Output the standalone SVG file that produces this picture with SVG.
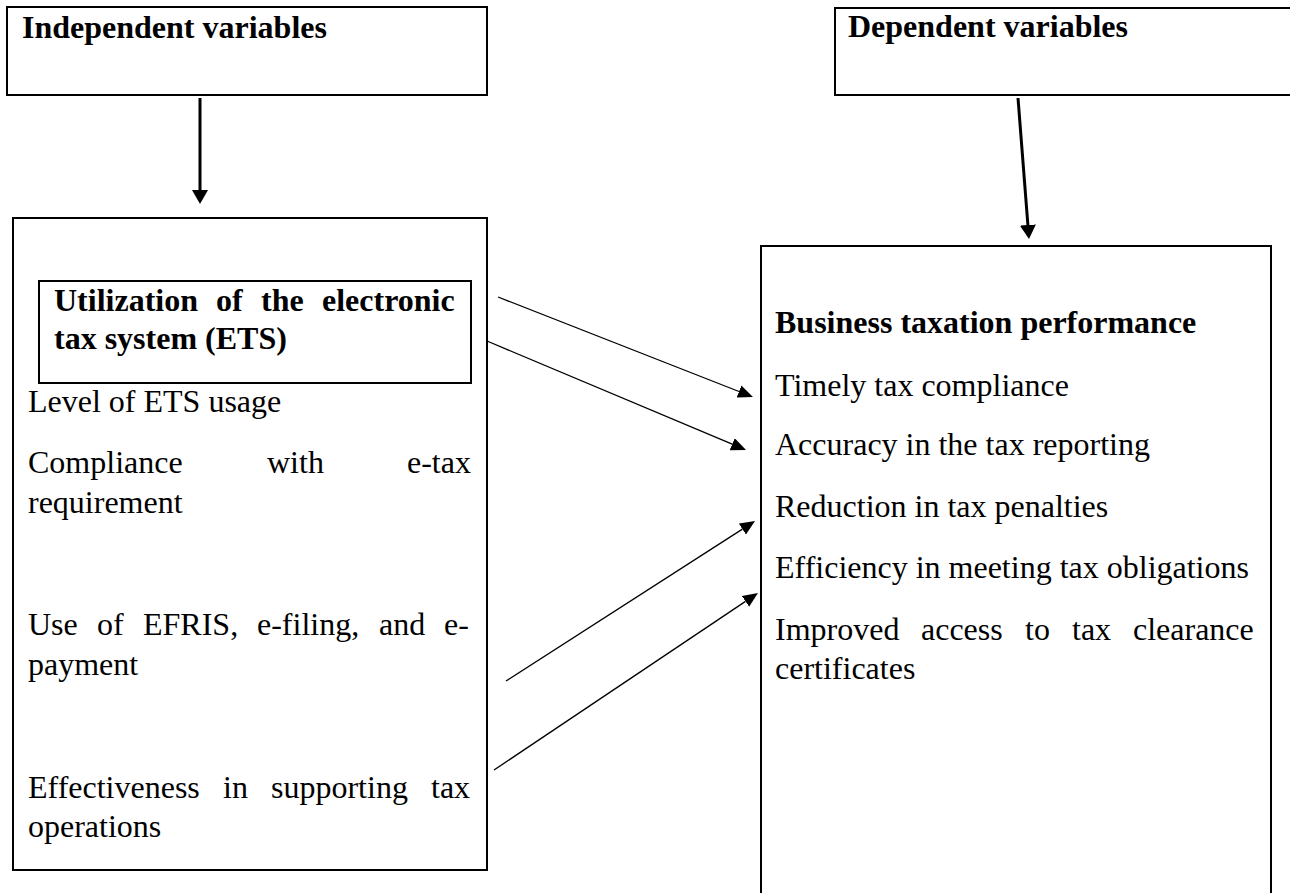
<svg xmlns="http://www.w3.org/2000/svg" width="1290" height="893" viewBox="0 0 1290 893">
<style>
.box{fill:none;stroke:#000;stroke-width:2}
.t{font-family:"Liberation Serif","Times New Roman",serif;font-size:32px;fill:#000}
.b{font-weight:bold}
.thick{stroke:#000;stroke-width:3;fill:none}
.thin{stroke:#000;stroke-width:1.3;fill:none}
</style>
<defs>
<marker id="hb" markerUnits="userSpaceOnUse" viewBox="0 -8 14 16" markerWidth="14" markerHeight="16" refX="0" refY="0" orient="auto">
<path d="M0,-8 L14,0 L0,8 z" fill="#000"/>
</marker>
<marker id="hs" markerUnits="userSpaceOnUse" viewBox="0 -6.5 15 13" markerWidth="15" markerHeight="13" refX="0" refY="0" orient="auto">
<path d="M0,-6.5 L15,0 L0,6.5 z" fill="#000"/>
</marker>
</defs>
<rect width="1290" height="893" fill="#fff"/>
<g id="independent">
<rect class="box" x="7" y="7" width="480" height="88"/>
<text class="t b" x="22" y="38">Independent variables</text>
</g>
<g id="dependent">
<rect class="box" x="835" y="8" width="470" height="87"/>
<text class="t b" x="848" y="37">Dependent variables</text>
</g>
<g id="ets">
<rect class="box" x="13" y="218" width="474" height="652"/>
<rect class="box" x="39" y="281" width="432" height="102"/>
<text class="t b" y="311"><tspan x="54">Utilization</tspan><tspan x="216">of</tspan><tspan x="261">the</tspan><tspan x="322">electronic</tspan></text>
<text class="t b" x="54" y="349">tax system (ETS)</text>
<text class="t" x="28" y="412">Level of ETS usage</text>
<text class="t" y="473"><tspan x="28">Compliance</tspan><tspan x="267">with</tspan><tspan x="407">e-tax</tspan></text>
<text class="t" x="28" y="513">requirement</text>
<text class="t" y="635"><tspan x="28">Use</tspan><tspan x="97">of</tspan><tspan x="143">EFRIS,</tspan><tspan x="257">e-filing,</tspan><tspan x="379">and</tspan><tspan x="444">e-</tspan></text>
<text class="t" x="28" y="675">payment</text>
<text class="t" y="798"><tspan x="28">Effectiveness</tspan><tspan x="223">in</tspan><tspan x="271">supporting</tspan><tspan x="431">tax</tspan></text>
<text class="t" x="28" y="837">operations</text>
</g>
<g id="performance">
<rect class="box" x="761" y="246" width="510" height="700"/>
<text class="t b" x="775" y="333">Business taxation performance</text>
<text class="t" x="775" y="396">Timely tax compliance</text>
<text class="t" x="775" y="455">Accuracy in the tax reporting</text>
<text class="t" x="775" y="517">Reduction in tax penalties</text>
<text class="t" x="775" y="578">Efficiency in meeting tax obligations</text>
<text class="t" y="640"><tspan x="775">Improved</tspan><tspan x="921">access</tspan><tspan x="1025">to</tspan><tspan x="1072">tax</tspan><tspan x="1133">clearance</tspan></text>
<text class="t" x="775" y="679">certificates</text>
</g>
<g id="connectors">
<line class="thick" x1="200" y1="98" x2="200" y2="190" marker-end="url(#hb)"/>
<line class="thick" x1="1018" y1="98" x2="1027.9" y2="225" marker-end="url(#hb)"/>
<line class="thin" x1="498" y1="297" x2="739" y2="391.5" marker-end="url(#hs)"/>
<line class="thin" x1="487" y1="341" x2="732.2" y2="444.2" marker-end="url(#hs)"/>
<line class="thin" x1="506" y1="681" x2="742.4" y2="529.1" marker-end="url(#hs)"/>
<line class="thin" x1="494" y1="770" x2="745.5" y2="601.4" marker-end="url(#hs)"/>
</g>
</svg>
